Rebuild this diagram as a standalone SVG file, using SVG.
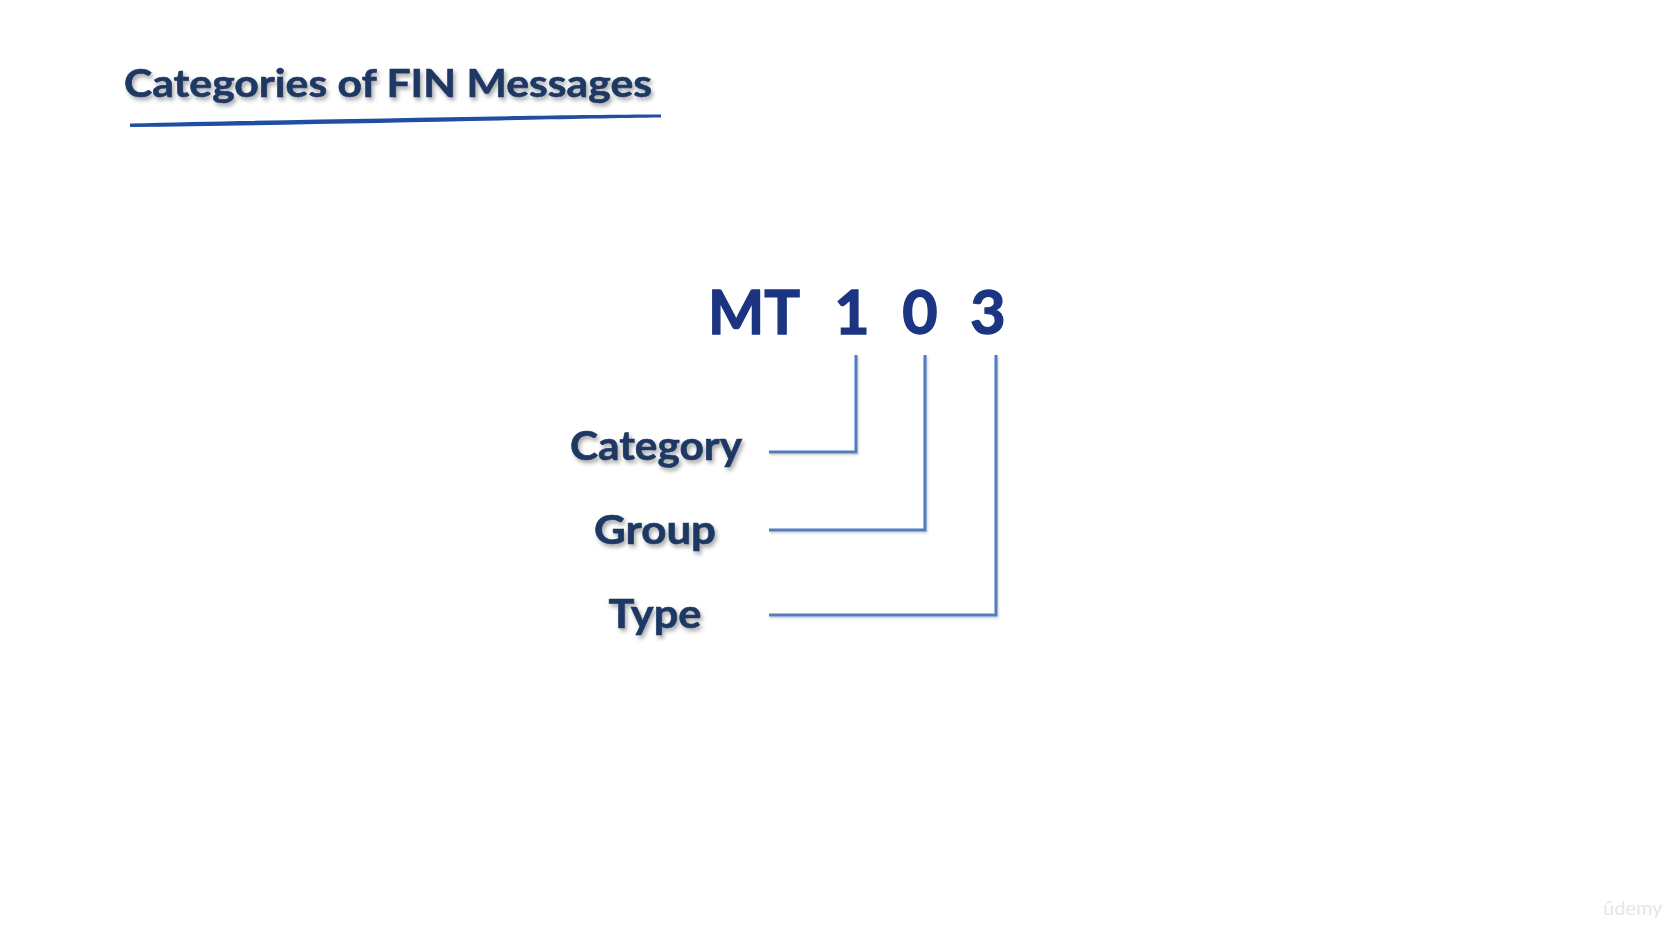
<svg xmlns="http://www.w3.org/2000/svg" width="1668" height="926" viewBox="0 0 1668 926">
<defs>
<filter id="sh" x="-10%" y="-30%" width="130%" height="170%">
<feDropShadow dx="2" dy="3" stdDeviation="2" flood-color="#000" flood-opacity="0.35"/>
</filter>
<filter id="lsh" x="-5%" y="-5%" width="110%" height="110%">
<feDropShadow dx="1" dy="1.5" stdDeviation="1" flood-color="#000" flood-opacity="0.2"/>
</filter>
</defs>
<style>
.t{font-family:Lato,"Open Sans","Liberation Sans",sans-serif;font-weight:bold;fill:#1f3864;stroke:#1f3864;stroke-width:0.6}
.big{font-family:Lato,"Open Sans","Liberation Sans",sans-serif;font-weight:bold;fill:#1c3582;stroke:#1c3582;stroke-width:1.4;font-size:61px}
.c{fill:none;stroke:#4f7dbf;stroke-width:3}
</style>
<rect width="1668" height="926" fill="#ffffff"/>
<g id="title">
<text class="t" x="124" y="97" font-size="39" textLength="528" lengthAdjust="spacingAndGlyphs" filter="url(#sh)">Categories of FIN Messages</text>
<path d="M130 123.5 C 250 120.5, 400 118, 520 116 C 580 115, 630 114.5, 661 114.5 L 661 117.5 C 620 118, 560 119, 500 120.5 C 380 123, 250 125.5, 130 127 Z" fill="#1f4ea3"/>
</g>
<g id="code">
<text class="big" x="708" y="334" textLength="92" lengthAdjust="spacingAndGlyphs">MT</text>
<text class="big" x="852" y="334" text-anchor="middle">1</text>
<text class="big" x="920" y="334" text-anchor="middle">0</text>
<text class="big" x="988" y="334" text-anchor="middle">3</text>
</g>
<g id="category">
<text class="t" x="656" y="460" font-size="40" text-anchor="middle" textLength="172" lengthAdjust="spacingAndGlyphs" filter="url(#sh)">Category</text>
</g>
<g id="group">
<text class="t" x="655" y="544" font-size="40" text-anchor="middle" textLength="122" lengthAdjust="spacingAndGlyphs" filter="url(#sh)">Group</text>
</g>
<g id="type">
<text class="t" x="655" y="628" font-size="40" text-anchor="middle" textLength="93" lengthAdjust="spacingAndGlyphs" filter="url(#sh)">Type</text>
</g>
<g id="connectors" filter="url(#lsh)">
<polyline class="c" points="856,355 856,452 769,452"/>
<polyline class="c" points="925,355 925,530 769,530"/>
<polyline class="c" points="996,355 996,615 769,615"/>
</g>
<g id="watermark">
<text x="1603" y="915" font-family="Lato,'Liberation Sans',sans-serif" font-size="20" fill="#e6e6e6">ûdemy</text>
</g>
</svg>
